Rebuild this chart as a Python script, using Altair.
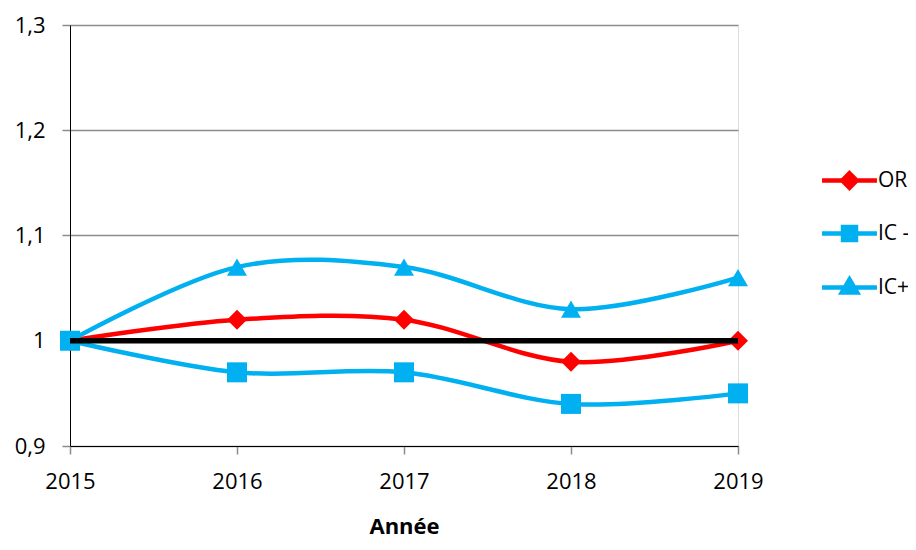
import altair as alt
import pandas as pd

years = [2015, 2016, 2017, 2018, 2019]
or_vals = [1.00, 1.02, 1.02, 0.98, 1.00]
ic_low = [1.00, 0.97, 0.97, 0.94, 0.95]
ic_high = [1.00, 1.07, 1.07, 1.03, 1.06]
ref_vals = [1.00, 1.00, 1.00, 1.00, 1.00]

series_names = ["OR", "IC -", "IC+"]
series_colors = ["#FF0000", "#00B0F0", "#00B0F0"]
series_shapes = ["diamond", "square", "triangle-up"]
legend_paths = [
    "M-3.05,0H3.05M0,-0.8L0.8,0L0,0.8L-0.8,0Z",
    "M-3.05,0H3.05M-0.72,-0.72H0.72V0.72H-0.72Z",
    "M-3.05,0H3.05M0,-0.9L0.85,0.55L-0.85,0.55Z",
]

rows = []
for name, col, shp, vals in zip(series_names, series_colors, series_shapes,
                                 [or_vals, ic_low, ic_high]):
    for yr, v in zip(years, vals):
        rows.append({"year": yr, "value": v, "series": name, "color": col, "shape": shp})
df = pd.DataFrame(rows)
ref_df = pd.DataFrame({"year": years, "value": ref_vals})

FONT = "Open Sans"

x_enc = alt.X(
    "year:Q",
    scale=alt.Scale(domain=[2015, 2019], nice=False, zero=False),
    axis=alt.Axis(
        values=years, format="d", title="Année", grid=False,
        labelFont=FONT, labelFontSize=22, labelColor="#000000",
        labelPadding=17, labelFlush=False, labelOverlap=False,
        tickSize=8, tickColor="#8c8c8c", tickWidth=1.5,
        domainColor="#000000", domainWidth=1,
        titleFont=FONT, titleFontSize=22, titleFontWeight="bold",
        titleColor="#000000", titlePadding=24,
    ),
)
y_enc = alt.Y(
    "value:Q",
    scale=alt.Scale(domain=[0.9, 1.3], nice=False, zero=False),
    axis=alt.Axis(
        values=[0.9, 1.0, 1.1, 1.2, 1.3], title=None,
        labelExpr="replace(format(datum.value, '~g'), '.', ',')",
        labelFont=FONT, labelFontSize=22, labelColor="#000000",
        labelPadding=17, labelFlush=False, labelOverlap=False,
        tickSize=8, tickColor="#8c8c8c", tickWidth=1.5,
        domainColor="#000000", domainWidth=1,
        grid=True, gridColor="#8c8c8c", gridWidth=1.5,
    ),
)

base = alt.Chart(df)

lines = base.mark_line(interpolate="cardinal", tension=0, strokeWidth=4.5).encode(
    x=x_enc, y=y_enc, detail="series:N",
    stroke=alt.Stroke("color:N", scale=None),
)

markers = base.mark_point(filled=True, size=400, opacity=1).encode(
    x=x_enc, y=y_enc,
    fill=alt.Fill("color:N", scale=None),
    shape=alt.Shape("shape:N", scale=None),
)

leg = alt.Legend(
    title=None, orient="none", legendX=768, legendY=144, padding=0,
    labelFont=FONT, labelFontSize=21, labelColor="#000000",
    labelOffset=17, rowPadding=21, symbolSize=324,
    symbolStrokeWidth=4.5, symbolOpacity=1,
)

legend_layer = base.mark_point(filled=True, size=324, opacity=0).encode(
    x=x_enc, y=y_enc,
    shape=alt.Shape("series:N", scale=alt.Scale(domain=series_names, range=legend_paths), legend=leg),
    fill=alt.Fill("series:N", scale=alt.Scale(domain=series_names, range=series_colors), legend=leg),
    stroke=alt.Stroke("series:N", scale=alt.Scale(domain=series_names, range=series_colors), legend=leg),
)

ref_line = alt.Chart(ref_df).mark_line(color="#000000", strokeWidth=5.5).encode(
    x=x_enc, y=y_enc,
)

chart = alt.layer(lines, markers, ref_line, legend_layer).properties(
    width=668, height=421,
    autosize=alt.AutoSizeParams(type="none"),
    padding={"left": 62, "top": 17, "right": 170, "bottom": 96},
).configure_view(stroke=None).configure(background="#ffffff")

chart.save("out.html", embed_options={"renderer": "svg", "actions": False})
